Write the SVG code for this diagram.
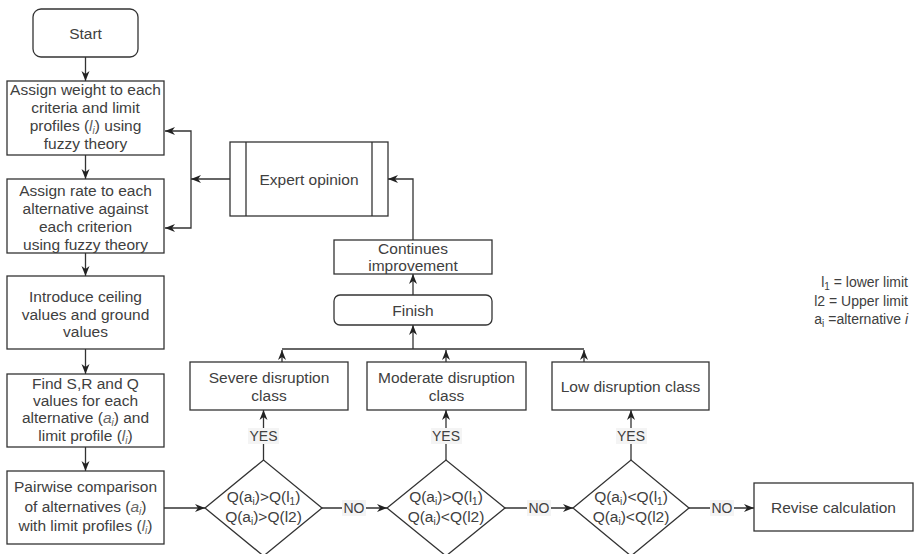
<svg xmlns="http://www.w3.org/2000/svg" width="917" height="554" viewBox="0 0 917 554">
<defs>
<marker id="ah" viewBox="0 0 10 10" refX="10" refY="5" markerWidth="10" markerHeight="10" markerUnits="userSpaceOnUse" orient="auto">
<path d="M0,1 L10,5 L0,9 L3,5 z" fill="#222"/>
</marker>
<style>
.nd { fill: #fff; stroke: #333; stroke-width: 1.3; }
.ln { fill: none; stroke: #333; stroke-width: 1.3; }
.arr { fill: none; stroke: #333; stroke-width: 1.3; marker-end: url(#ah); }
text { font-family: "Liberation Sans", Arial, sans-serif; font-size: 15.5px; fill: #404040; text-anchor: middle; }
.lbl { font-size: 14px; }
.lblbg { fill: #f4f4f4; stroke: none; }
.it { font-style: italic; fill: #666; }
.sub { font-size: 10px; }
.leg { font-size: 14px; text-anchor: end; }
</style>
</defs>

<g id="connectors">
<line class="arr" x1="85.5" y1="57" x2="85.5" y2="81"/>
<line class="arr" x1="85.5" y1="155" x2="85.5" y2="179"/>
<line class="arr" x1="85.5" y1="253" x2="85.5" y2="276"/>
<line class="arr" x1="85.5" y1="349" x2="85.5" y2="374"/>
<line class="arr" x1="85.5" y1="447" x2="85.5" y2="471"/>
<line class="arr" x1="164" y1="508" x2="205" y2="508"/>
<line class="arr" x1="230" y1="179" x2="191" y2="179"/>
<polyline class="arr" points="191,179 191,131 165,131"/>
<polyline class="arr" points="191,179 191,228 165,228"/>
<polyline class="arr" points="413,240 413,179 388,179"/>
<line class="arr" x1="413" y1="295" x2="413" y2="274"/>
<line class="ln" x1="282" y1="349" x2="584" y2="349"/>
<line class="arr" x1="413" y1="349" x2="413" y2="325"/>
<line class="arr" x1="282" y1="362" x2="282" y2="350"/>
<line class="arr" x1="446" y1="362" x2="446" y2="350"/>
<line class="arr" x1="584" y1="362" x2="584" y2="350"/>
<line class="arr" x1="263.5" y1="460" x2="263.5" y2="410"/>
<line class="arr" x1="446" y1="460" x2="446" y2="410"/>
<line class="arr" x1="631" y1="460" x2="631" y2="410"/>
<line class="arr" x1="322" y1="508" x2="387" y2="508"/>
<line class="arr" x1="505" y1="508" x2="573" y2="508"/>
<line class="arr" x1="689" y1="508" x2="754" y2="508"/>
<g id="edge-labels">
<rect class="lblbg" x="248" y="428" width="31" height="16"/>
<text class="lbl" x="263.5" y="441">YES</text>
<rect class="lblbg" x="431" y="428" width="31" height="16"/>
<text class="lbl" x="446" y="441">YES</text>
<rect class="lblbg" x="616" y="428" width="31" height="16"/>
<text class="lbl" x="631" y="441">YES</text>
<rect class="lblbg" x="342" y="500" width="24" height="16"/>
<text class="lbl" x="354" y="513">NO</text>
<rect class="lblbg" x="527" y="500" width="24" height="16"/>
<text class="lbl" x="539" y="513">NO</text>
<rect class="lblbg" x="710" y="500" width="24" height="16"/>
<text class="lbl" x="722" y="513">NO</text>
</g>
</g>

<g id="start">
<rect class="nd" x="33" y="9" width="105" height="48" rx="8"/>
<text x="85.5" y="38.5">Start</text>
</g>
<g id="assign-weight">
<rect class="nd" x="7" y="81" width="157" height="74"/>
<text x="85.5" y="95">Assign weight to each</text>
<text x="85.5" y="113">criteria and limit</text>
<text x="85.5" y="131">profiles (<tspan class="it">l</tspan><tspan class="it sub" dy="3">i</tspan><tspan dy="-3">) using</tspan></text>
<text x="85.5" y="149">fuzzy theory</text>
</g>
<g id="assign-rate">
<rect class="nd" x="7" y="179" width="157" height="74"/>
<text x="85.5" y="196">Assign rate to each</text>
<text x="85.5" y="214">alternative against</text>
<text x="85.5" y="232">each criterion</text>
<text x="85.5" y="250">using fuzzy theory</text>
</g>
<g id="ceiling">
<rect class="nd" x="7" y="276" width="157" height="73"/>
<text x="85.5" y="302">Introduce ceiling</text>
<text x="85.5" y="319.5">values and ground</text>
<text x="85.5" y="337">values</text>
</g>
<g id="find-sqr">
<rect class="nd" x="7" y="374" width="157" height="73"/>
<text x="85.5" y="389">Find S,R and Q</text>
<text x="85.5" y="406">values for each</text>
<text x="85.5" y="423">alternative (<tspan class="it">a</tspan><tspan class="it sub" dy="3">i</tspan><tspan dy="-3">) and</tspan></text>
<text x="85.5" y="441">limit profile (<tspan class="it">l</tspan><tspan class="it sub" dy="3">i</tspan><tspan dy="-3">)</tspan></text>
</g>
<g id="pairwise">
<rect class="nd" x="7" y="471" width="157" height="73"/>
<text x="85.5" y="492">Pairwise comparison</text>
<text x="85.5" y="511.5">of alternatives (<tspan class="it">a</tspan><tspan class="it sub" dy="3">i</tspan><tspan dy="-3">)</tspan></text>
<text x="85.5" y="531">with limit profiles (<tspan class="it">l</tspan><tspan class="it sub" dy="3">i</tspan><tspan dy="-3">)</tspan></text>
</g>
<g id="expert">
<rect class="nd" x="230" y="142" width="158" height="74"/>
<line class="ln" x1="246" y1="142" x2="246" y2="216"/>
<line class="ln" x1="372" y1="142" x2="372" y2="216"/>
<text x="309" y="185">Expert opinion</text>
</g>
<g id="continues">
<rect class="nd" x="334" y="240" width="158" height="34"/>
<text x="413" y="254">Continues</text>
<text x="413" y="271">improvement</text>
</g>
<g id="finish">
<rect class="nd" x="334" y="295" width="158" height="30" rx="6"/>
<text x="413" y="315.5">Finish</text>
</g>
<g id="severe">
<rect class="nd" x="190" y="362" width="158" height="48"/>
<text x="269" y="383">Severe disruption</text>
<text x="269" y="401">class</text>
</g>
<g id="moderate">
<rect class="nd" x="367" y="362" width="159" height="48"/>
<text x="446.5" y="383">Moderate disruption</text>
<text x="446.5" y="401">class</text>
</g>
<g id="low">
<rect class="nd" x="552" y="362" width="157" height="48"/>
<text x="630.5" y="392">Low disruption class</text>
</g>
<g id="cond1">
<polygon class="nd" points="205,508 263.5,460 322,508 263.5,556"/>
<text x="263.5" y="502">Q(a<tspan class="sub" dy="3">i</tspan><tspan dy="-3">)&gt;Q(l</tspan><tspan class="sub" dy="3">1</tspan><tspan dy="-3">)</tspan></text>
<text x="263.5" y="522">Q(a<tspan class="sub" dy="3">i</tspan><tspan dy="-3">)&gt;Q(l2)</tspan></text>
</g>
<g id="cond2">
<polygon class="nd" points="387,508 446,460 505,508 446,556"/>
<text x="446" y="502">Q(a<tspan class="sub" dy="3">i</tspan><tspan dy="-3">)&gt;Q(l</tspan><tspan class="sub" dy="3">1</tspan><tspan dy="-3">)</tspan></text>
<text x="446" y="522">Q(a<tspan class="sub" dy="3">i</tspan><tspan dy="-3">)&lt;Q(l2)</tspan></text>
</g>
<g id="cond3">
<polygon class="nd" points="573,508 631,460 689,508 631,556"/>
<text x="631" y="502">Q(a<tspan class="sub" dy="3">i</tspan><tspan dy="-3">)&lt;Q(l</tspan><tspan class="sub" dy="3">1</tspan><tspan dy="-3">)</tspan></text>
<text x="631" y="522">Q(a<tspan class="sub" dy="3">i</tspan><tspan dy="-3">)&lt;Q(l2)</tspan></text>
</g>
<g id="revise">
<rect class="nd" x="754" y="483" width="159" height="48"/>
<text x="833.5" y="513">Revise calculation</text>
</g>
<g id="legend">
<text class="leg" x="908" y="287">l<tspan class="sub" dy="3">1</tspan><tspan dy="-3"> = lower limit</tspan></text>
<text class="leg" x="908" y="306">l2 = Upper limit</text>
<text class="leg" x="908" y="324">a<tspan class="sub" dy="3">i</tspan><tspan dy="-3"> =alternative </tspan><tspan font-style="italic">i</tspan></text>
</g>
</svg>
